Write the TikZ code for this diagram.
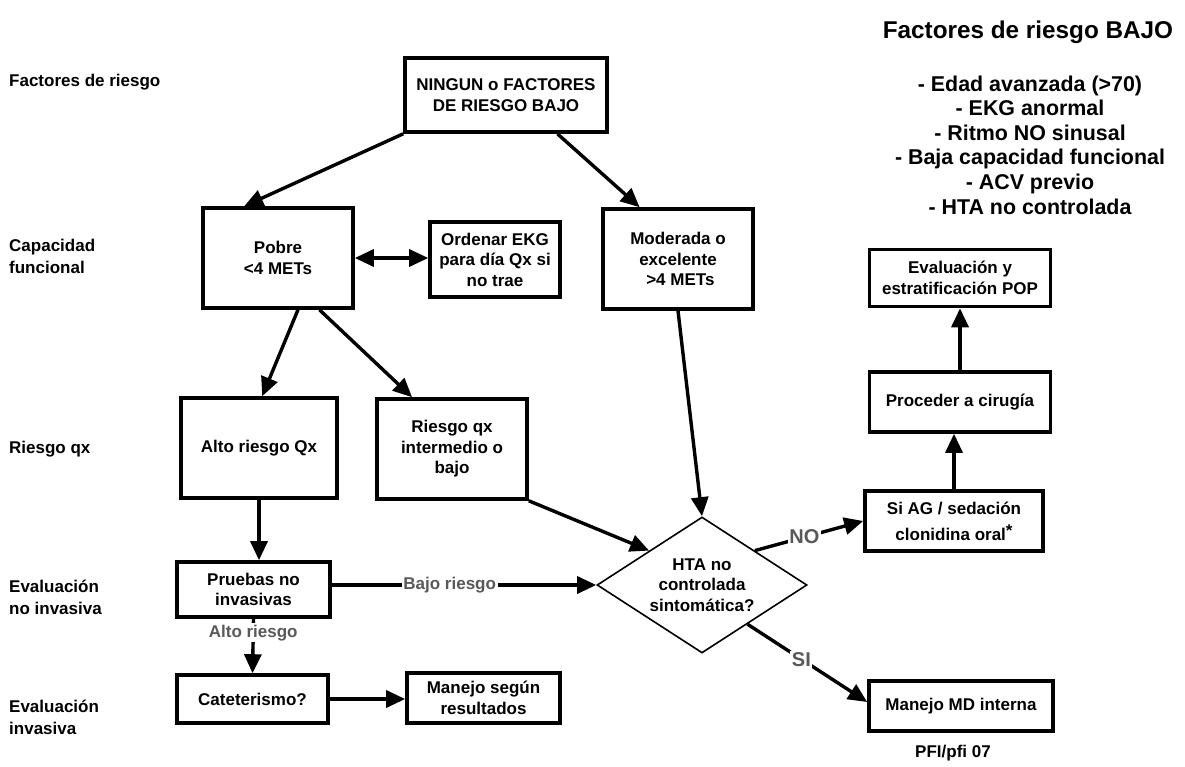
\documentclass[tikz,border=0pt]{standalone}
\usepackage{fontspec}
\setmainfont{Liberation Sans}
\usetikzlibrary{arrows.meta,shapes.geometric,calc}
\definecolor{labelgray}{RGB}{89,89,89}
\newcommand{\boxfont}{\fontsize{17}{20.5}\selectfont\bfseries}
\newcommand{\sidefont}{\fontsize{17}{22}\selectfont\bfseries}
\tikzset{
  box/.style={draw, line width=3.6pt, align=center, inner sep=2pt, font=\boxfont},
  tip/.tip={Triangle[length=19pt,width=17pt]},
  arr/.style={line width=3.4pt, -tip},
  arrboth/.style={line width=3.4pt, tip-tip},
  lbl/.style={fill=white, text=labelgray, inner sep=1.5pt, font=\boxfont},
  bigLbl/.style={fill=white, text=labelgray, inner sep=1.5pt, font=\fontsize{20}{24}\selectfont\bfseries},
  side/.style={anchor=west, align=left, inner sep=0pt, font=\sidefont}
}
\begin{document}
\begin{tikzpicture}[x=1pt,y=-1pt]
\useasboundingbox (0,0) rectangle (1185,767);

% row captions on the left
\node[side] (c1) at (9,82) {Factores de riesgo};
\node[side] (c2) at (9,256) {Capacidad\\funcional};
\node[side] (c3) at (9,449) {Riesgo qx};
\node[side] (c4) at (9,597) {Evaluación\\no invasiva};
\node[side] (c5) at (9,717) {Evaluación\\invasiva};

% list of low risk factors
\node[font=\fontsize{24.3}{28}\selectfont\bfseries] (title) at (1028,32) {Factores de riesgo BAJO};
\node[align=center, font=\fontsize{21.4}{24.6}\selectfont\bfseries] (list) at (1030,145)
  {- Edad avanzada (>70)\\- EKG anormal\\- Ritmo NO sinusal\\- Baja capacidad funcional\\- ACV previo\\- HTA no controlada};

% flow boxes
\node[box, minimum width=202pt, minimum height=74pt] (N) at (506,95) {NINGUN o FACTORES\\DE RIESGO BAJO};
\node[box, minimum width=150pt, minimum height=100pt] (Pobre) at (278,258) {Pobre\\<4 METs};
\node[box, minimum width=130pt, minimum height=75pt] (Ord) at (495,259.5) {Ordenar EKG\\para día Qx si\\no trae};
\node[box, minimum width=150pt, minimum height=100pt] (Mod) at (678,259) {Moderada o\\excelente\\\hspace*{4.7pt}>4 METs};
\node[box, minimum width=156pt, minimum height=100pt] (Alto) at (259,448) {Alto riesgo Qx};
\node[box, minimum width=150pt, minimum height=100pt] (Riesgo) at (452,449) {Riesgo qx\\intermedio o\\bajo};
\node[box, minimum width=153pt, minimum height=55pt] (Pruebas) at (253.5,589.5) {Pruebas no\\invasivas};
\node[box, minimum width=151pt, minimum height=48pt] (Cat) at (252.5,699) {Cateterismo?};
\node[box, minimum width=153pt, minimum height=50pt] (ManS) at (483.5,698) {Manejo según\\resultados};
\node[draw, diamond, line width=1.6pt, aspect=1.54, minimum width=210pt, minimum height=136pt,
      inner sep=0pt, align=center, font=\boxfont] (D) at (702,585) {HTA no\\controlada\\sintomática?};
\node[box, minimum width=178pt, minimum height=60pt, font=\fontsize{17}{26}\selectfont\bfseries] (SiAG) at (954,521)
  {Si AG / sedación\\clonidina oral\raisebox{4pt}{*}};
\node[box, minimum width=181pt, minimum height=60pt] (Proc) at (960,402) {Proceder a cirugía};
\node[box, minimum width=181pt, minimum height=57pt] (Eval) at (960,278) {Evaluación y\\estratificación POP};
\node[box, minimum width=184pt, minimum height=50pt] (MD) at (961,706) {Manejo MD interna};
\node[font=\boxfont] (sig) at (953,753) {PFI/pfi 07};

% connectors
\draw[arr] (N.south west) -- ($(Pobre.north west)!0.28!(Pobre.north east)$);
\draw[arr] ($(N.south west)!0.75!(N.south east)$) -- ($(Mod.north west)!0.25!(Mod.north east)$);
\draw[arrboth] (Pobre.east) -- (Pobre.east -| Ord.west);
\draw[arr] ($(Pobre.south west)!0.63!(Pobre.south east)$) -- ($(Alto.north west)!0.52!(Alto.north east)$);
\draw[arr] ($(Pobre.south west)!0.77!(Pobre.south east)$) -- ($(Riesgo.north west)!0.24!(Riesgo.north east)$);
\draw[arr] (Mod.south) -- (D.north);
\draw[arr] (Riesgo.south east) -- ($(D.north)!0.5!(D.west)$);
\draw[arr] (Alto.south) -- (Alto.south |- Pruebas.north);
\draw[arr] (Pruebas.east |- D.west) -- node[lbl, pos=0.446] (bajo) {Bajo riesgo} (D.west);
\draw[arr] (Pruebas.south) -- node[lbl, pos=0.26] (altoR) {Alto riesgo} (Cat.north);
\draw[arr] (Cat.east) -- (Cat.east -| ManS.west);
\draw[arr] ($(D.north)!0.5!(D.east)$) -- node[bigLbl, pos=0.457] (no) {NO} (SiAG.west);
\draw[arr] ($(D.east)!0.57!(D.south)$) -- node[bigLbl, pos=0.45] (si) {SI} ([yshift=4pt]MD.west);
\draw[arr] (SiAG.north) -- (SiAG.north |- Proc.south);
\draw[arr] (Proc.north) -- (Proc.north |- Eval.south);
\end{tikzpicture}
\end{document}
